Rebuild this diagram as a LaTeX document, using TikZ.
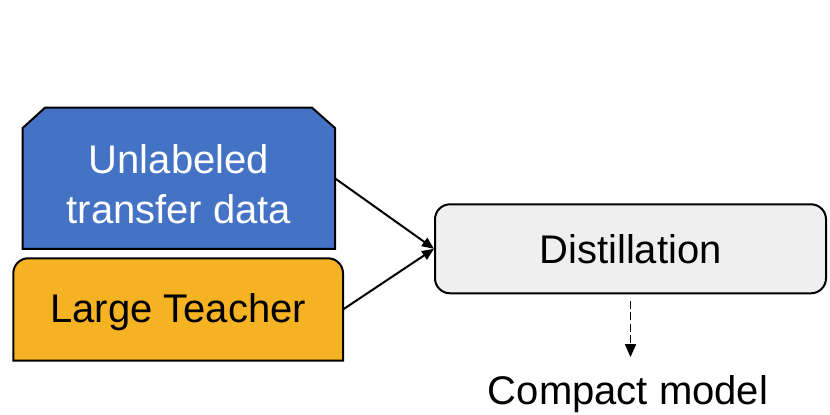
\documentclass[tikz,border=0pt]{standalone}
\usepackage{fontspec}
\setmainfont{Liberation Sans}
\usetikzlibrary{arrows.meta}
\definecolor{dblue}{HTML}{4472C4}
\definecolor{dgold}{HTML}{F5B223}
\definecolor{dgray}{HTML}{EFEFEF}
\begin{document}
\begin{tikzpicture}[x=1pt,y=1pt,
  shapeline/.style={draw=black,line width=2pt},
  lbl/.style={font=\fontsize{40}{49.7}\selectfont, align=center, inner sep=0pt},
  anchorbox/.style={inner sep=0pt, outer sep=0pt},
  flow/.style={line width=2pt,-{Triangle[length=12pt,width=10pt]}},
  dflow/.style={line width=1.8pt, dash pattern=on 8pt off 3.5pt, -{Triangle[length=13pt,width=11pt]}}]
\useasboundingbox (0,0) rectangle (830,415);
\fill[white] (0,0) rectangle (830,415);
% unlabeled transfer data
\filldraw[shapeline, fill=dblue] (22.7,166) -- (22.7,287) -- (45,307.3) -- (312,307.3) -- (335,287) -- (335,166) -- cycle;
\node[anchorbox, minimum width=312.3pt, minimum height=141.3pt] (data) at (178.85,236.65) {};
\node[lbl, text=white] (datatext) at (178.85,231) {Unlabeled\\transfer data};
% large teacher
\filldraw[shapeline, fill=dgold] (13.3,54.3) -- (13.3,141.7) arc[start angle=180,end angle=90,radius=15] -- (328,156.7) arc[start angle=90,end angle=0,radius=15] -- (343,54.3) -- cycle;
\node[anchorbox, minimum width=329.7pt, minimum height=102.4pt] (teacher) at (178.15,105.5) {};
\node[lbl] (teachertext) at (178.15,103) {Large Teacher};
% distillation
\node[lbl, draw, line width=2pt, fill=dgray, rounded corners=15pt, minimum width=391pt, minimum height=89pt] (distill) at (630.5,166.2) {Distillation};
% compact model
\node[lbl, anchor=base] (compact) at (628,10) {Compact model};
% connectors
\draw[flow] (data.east) -- (distill.west);
\draw[flow] (teacher.east) -- (distill.west);
\draw[dflow, shorten <=6.7pt, shorten >=18.7pt] (distill.south) -- (distill.south |- compact.north);
\end{tikzpicture}
\end{document}
